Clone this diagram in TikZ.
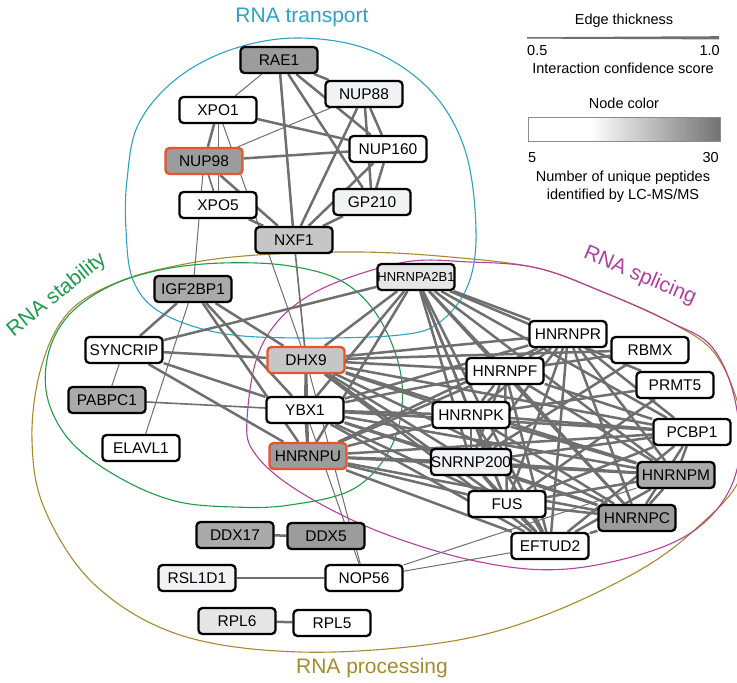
\documentclass[tikz,border=0pt]{standalone}
\usepackage{fontspec}
\setmainfont{Liberation Sans}
\usepackage{tikz}
\usetikzlibrary{calc}
\pgfdeclarelayer{back}
\pgfsetlayers{back,main}

\definecolor{edgec}{HTML}{6F6F6F}
\definecolor{hitred}{HTML}{E8532B}
\definecolor{transc}{HTML}{2DA2C2}
\definecolor{stabc}{HTML}{1E9B4B}
\definecolor{splic}{HTML}{B2409F}
\definecolor{procc}{HTML}{A88A2E}
\definecolor{pep5}{HTML}{F1F2F4}
\definecolor{pep10}{HTML}{E6E6E6}
\definecolor{pep20}{HTML}{C6C6C6}
\definecolor{pep25}{HTML}{AAAAAA}
\definecolor{pep30}{HTML}{9C9C9C}

\begin{document}
\begin{tikzpicture}[x=1pt,y=-1pt,
							prot/.style={draw,line width=2.3pt,rounded corners=4pt,fill=white,
								minimum width=77pt,minimum height=26pt,inner sep=0pt,
								font=\fontsize{15.5}{18}\selectfont},
							hit/.style={draw=hitred},
							ethick/.style={edgec,line width=2.5pt},
							emid/.style={edgec,line width=1.6pt},
							ethin/.style={edgec,line width=1pt},
							group/.style={line width=1.1pt},
							grouplabel/.style={font=\fontsize{21}{24}\selectfont,inner sep=0pt},
							legend/.style={font=\fontsize{14.5}{17}\selectfont}]
	\useasboundingbox (0,0) rectangle (737,683);

	% RNA transport
	\node[prot,fill=pep30] (rae1) at (279,60) {RAE1};
	\node[prot,fill=pep5] (nup88) at (364,94) {NUP88};
	\node[prot] (xpo1) at (218,110) {XPO1};
	\node[prot] (nup160) at (388,149) {NUP160};
	\node[prot,hit,fill=pep30] (nup98) at (204,161) {NUP98};
	\node[prot] (xpo5) at (218,205) {XPO5};
	\node[prot,fill=pep5] (gp210) at (372,202) {GP210};
	\node[prot,fill=pep20] (nxf1) at (294,240) {NXF1};

	% RNA stability
	\node[prot,fill=pep25] (igf2bp1) at (193,289) {IGF2BP1};
	\node[prot] (syncrip) at (124,350) {SYNCRIP};
	\node[prot,fill=pep25] (pabpc1) at (107,400) {PABPC1};
	\node[prot] (elavl1) at (141,448) {ELAVL1};
	\node[prot,hit,fill=pep20] (dhx9) at (306,360) {DHX9};
	\node[prot] (ybx1) at (305,410) {YBX1};
	\node[prot,hit,fill=pep30] (hnrnpu) at (308,456) {HNRNPU};

	% RNA splicing
	\node[prot,fill=pep10,font=\fontsize{13}{15}\selectfont] (a2b1) at (416,277) {HNRNPA2B1};
	\node[prot] (hnrnpr) at (568,334) {HNRNPR};
	\node[prot] (rbmx) at (650,350) {RBMX};
	\node[prot] (hnrnpf) at (505,371) {HNRNPF};
	\node[prot] (prmt5) at (675,385) {PRMT5};
	\node[prot] (hnrnpk) at (471,415) {HNRNPK};
	\node[prot] (pcbp1) at (692,432) {PCBP1};
	\node[prot,fill=pep5] (snrnp200) at (471,462) {SNRNP200};
	\node[prot,fill=pep25] (hnrnpm) at (676,475) {HNRNPM};
	\node[prot] (fus) at (507,504) {FUS};
	\node[prot,fill=pep30] (hnrnpc) at (637,518) {HNRNPC};
	\node[prot] (eftud2) at (550,546) {EFTUD2};

	% RNA processing
	\node[prot,fill=pep25] (ddx17) at (235,535) {DDX17};
	\node[prot,fill=pep30] (ddx5) at (326,536) {DDX5};
	\node[prot,fill=pep5] (rsl1d1) at (197,578) {RSL1D1};
	\node[prot] (nop56) at (364,578) {NOP56};
	\node[prot,fill=pep10] (rpl6) at (237,621) {RPL6};
	\node[prot] (rpl5) at (332,623) {RPL5};

	\begin{pgfonlayer}{back}
		\draw[group,procc] plot[smooth cycle,tension=0.6] coordinates {(257,255) (360,252) (450,257)
			(537,268) (603,292) (670,322) (716,355) (742,420) (740,478) (700,525) (640,570) (540,617)
			(440,643) (300,652) (180,635) (95,585) (45,510) (32,440) (41,368) (68,313) (118,282)
			(185,264)};
		\draw[group,splic] plot[smooth cycle,tension=0.6] coordinates {(247,420) (262,345) (310,295)
			(400,263) (470,262) (537,268) (603,292) (670,322) (712,347) (735,400) (738,465) (712,515)
			(660,548) (567,569) (480,562) (380,532) (300,492) (256,455)};
		\draw[group,stabc] plot[smooth cycle,tension=0.6] coordinates {(48,355) (68,316) (108,287)
			(160,270) (222,263) (290,266) (345,283) (382,323) (402,383) (393,443) (355,488) (290,505)
			(233,507) (175,501) (120,478) (72,443) (48,400)};
		\draw[group,transc] plot[smooth cycle,tension=0.6] coordinates {(127,180) (138,125) (175,80)
			(230,50) (297,38) (370,50) (430,90) (465,150) (476,230) (468,285) (440,322) (400,335)
			(300,338) (220,333) (160,312) (133,280) (126,230)};

		\foreach \a/\b in {rae1/nup88,rae1/nxf1,rae1/nup160,rae1/gp210,xpo1/nup160,xpo1/nup98,
				nup98/nup160,nup98/nxf1,xpo5/nxf1,nup88/nup160,nup88/gp210,nup88/nxf1,nup160/gp210,
				nup160/nxf1,gp210/nxf1,igf2bp1/syncrip,igf2bp1/dhx9,igf2bp1/ybx1,igf2bp1/hnrnpu,
				syncrip/dhx9,syncrip/ybx1,syncrip/hnrnpu,a2b1/syncrip,ddx17/ddx5,rpl6/rpl5,
				rbmx/hnrnpf,rbmx/snrnp200,rbmx/dhx9,prmt5/hnrnpk,prmt5/fus,prmt5/a2b1}
			\draw[ethick] (\a) -- (\b);
		\foreach \a/\b in {nxf1/dhx9,pabpc1/ybx1,rsl1d1/nop56,nup98/xpo5}
			\draw[emid] (\a) -- (\b);
		\foreach \a/\b in {rae1/xpo1,nup98/nup88,xpo1/xpo5,xpo1/dhx9,nup98/igf2bp1,igf2bp1/elavl1,
				syncrip/pabpc1,ybx1/nop56,dhx9/nop56,nop56/eftud2,nop56/hnrnpm}
			\draw[ethin] (\a) -- (\b);
		% splicing core, all pairs
		\foreach \a [count=\i] in {dhx9,ybx1,hnrnpu,a2b1,hnrnpr,hnrnpf,hnrnpk,snrnp200,fus,eftud2,hnrnpc,hnrnpm,pcbp1}
			\foreach \b [count=\j] in {dhx9,ybx1,hnrnpu,a2b1,hnrnpr,hnrnpf,hnrnpk,snrnp200,fus,eftud2,hnrnpc,hnrnpm,pcbp1}
				{\ifnum\i<\j \draw[ethick] (\a) -- (\b); \fi}
	\end{pgfonlayer}

	% group names
	\node[grouplabel,text=transc] (lbltrans) at (302,17) {RNA transport};
	\node[grouplabel,text=stabc,rotate=39] (lblstab) at (57,295) {RNA stability};
	\node[grouplabel,text=splic,rotate=-23] (lblsplic) at (640,276) {RNA splicing};
	\node[grouplabel,text=procc] (lblproc) at (372,668) {RNA processing};

	% legend
	\node[legend] (edgettl) at (624,21) {Edge thickness};
	\fill[edgec] (527,37.2) -- (719,36.2) -- (719,39.4) -- (527,38.6) -- cycle;
	\node[legend,anchor=west,inner sep=0pt] (elo) at (527,51) {0.5};
	\node[legend,anchor=east,inner sep=0pt] (ehi) at (720,51) {1.0};
	\node[legend] (escore) at (623,68) {Interaction confidence score};
	\node[legend] (nodettl) at (624,103) {Node color};
	\fill[white] (528,117) rectangle (590,141);
	\shade[left color=white,right color=black!55] (590,117) rectangle (720,141);
	\draw[black!45,line width=0.8pt] (528,117) rectangle (720,141);
	\node[legend,anchor=west,inner sep=0pt] (nlo) at (528,158) {5};
	\node[legend,anchor=east,inner sep=0pt] (nhi) at (719,158) {30};
	\node[legend] (npep) at (623,178) {Number of unique peptides};
	\node[legend] (nms) at (623,196) {identified by LC-MS/MS};
\end{tikzpicture}
\end{document}
